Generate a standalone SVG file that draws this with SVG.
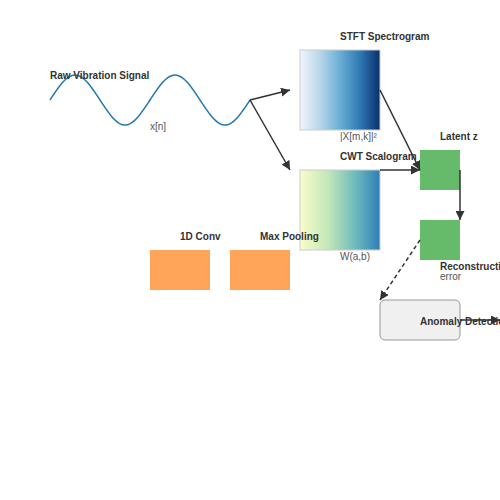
<svg xmlns="http://www.w3.org/2000/svg" width="500" height="500" viewBox="0 0 500 500">
<style>
.t{font-family:"Liberation Sans",Arial,sans-serif;font-size:10px;fill:#333}
.b{font-weight:bold}
.s{fill:#555}
.c{stroke:#333;stroke-width:1.5;fill:none}
.g{fill:#66bb6a}
.o{fill:#ffa55a}
</style>
<defs>
<linearGradient id="blues" x1="0" y1="0" x2="1" y2="0">
<stop offset="0" stop-color="#f0f6fd"/>
<stop offset="0.25" stop-color="#b9d6ea"/>
<stop offset="0.5" stop-color="#6aaed6"/>
<stop offset="0.75" stop-color="#2f79b5"/>
<stop offset="1" stop-color="#08306b"/>
</linearGradient>
<linearGradient id="ylgnbu" x1="0" y1="0" x2="1" y2="0">
<stop offset="0" stop-color="#fafdcb"/>
<stop offset="0.35" stop-color="#c3e7b8"/>
<stop offset="0.7" stop-color="#6cb9bd"/>
<stop offset="1" stop-color="#2d7fb8"/>
</linearGradient>
<marker id="ah" viewBox="0 0 10 10" refX="10" refY="5" markerWidth="6" markerHeight="6" orient="auto">
<path d="M0,0 L10,5 L0,10 z" fill="#333"/>
</marker>
</defs>
<g id="signal">
<path d="M50,100 C58,88 66,75 75,75 C84,75 92,88 100,100 C108,112 116,125 125,125 C134,125 142,112 150,100 C158,88 166,75 175,75 C184,75 192,88 200,100 C208,112 216,125 225,125 C234,125 242,112 250,100" fill="none" stroke="#1f77b4" stroke-width="1.5"/>
<text class="t b" x="50" y="79">Raw Vibration Signal</text>
<text class="t s" x="150" y="130">x[n]</text>
</g>
<g id="stft">
<rect x="300" y="50" width="80" height="80" fill="url(#blues)" stroke="#ccc"/>
<text class="t b" x="340" y="40">STFT Spectrogram</text>
<text class="t s" x="340" y="140">|X[m,k]|²</text>
</g>
<g id="cwt">
<rect x="300" y="170" width="80" height="80" fill="url(#ylgnbu)" stroke="#ccc"/>
<text class="t s" x="340" y="260">W(a,b)</text>
</g>
<g id="conv">
<rect class="o" x="150" y="250" width="60" height="40"/>
<text class="t b" x="180" y="240">1D Conv</text>
</g>
<g id="pool">
<rect class="o" x="230" y="250" width="60" height="40"/>
<text class="t b" x="260" y="240">Max Pooling</text>
</g>
<g id="cwtlabel">
<text class="t b" x="340" y="160">CWT Scalogram</text>
</g>
<g id="latent">
<rect class="g" x="420" y="150" width="40" height="40"/>
<text class="t b" x="440" y="140">Latent z</text>
</g>
<g id="recon">
<rect class="g" x="420" y="220" width="40" height="40"/>
<text class="t b" x="440" y="270">Reconstruction</text>
<text class="t s" x="440" y="280">error</text>
</g>
<g id="anomaly">
<rect x="380" y="300" width="80" height="40" rx="5" fill="#f0f0f0" stroke="#999" stroke-width="1"/>
<text class="t b" x="420" y="325">Anomaly Detection</text>
</g>
<g id="connectors">
<line class="c" x1="250" y1="100" x2="290" y2="90" marker-end="url(#ah)"/>
<line class="c" x1="250" y1="100" x2="290" y2="170" marker-end="url(#ah)"/>
<line class="c" x1="380" y1="90" x2="420" y2="170" marker-end="url(#ah)"/>
<line class="c" x1="380" y1="170" x2="420" y2="170" marker-end="url(#ah)"/>
<line class="c" x1="460" y1="170" x2="460" y2="220" marker-end="url(#ah)"/>
<line class="c" x1="420" y1="240" x2="380" y2="300" stroke-dasharray="4,3" marker-end="url(#ah)"/>
<line class="c" x1="460" y1="320" x2="500" y2="320" marker-end="url(#ah)"/>
</g>
</svg>
